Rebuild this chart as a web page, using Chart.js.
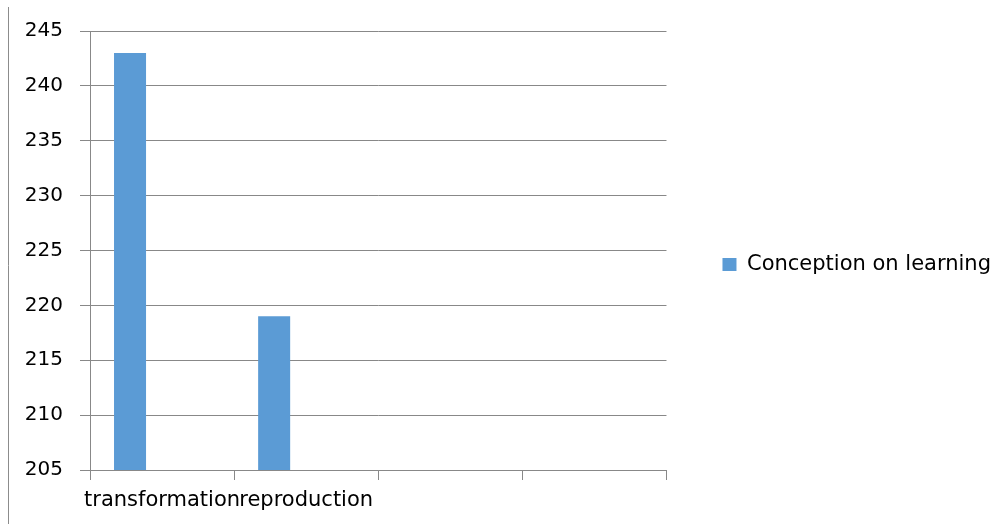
<!DOCTYPE html>
<html>
<head>
<meta charset="utf-8">
<script src="https://cdn.jsdelivr.net/npm/chart.js@4/dist/chart.umd.min.js"></script>
<style>
  html, body { margin: 0; padding: 0; background: #ffffff; }
  #wrap { width: 1003px; height: 524px; position: relative; }
</style>
</head>
<body>
<div id="wrap"><canvas id="chart"></canvas></div>
<script>
// Categories along the x axis (the last two slots are left empty)
const categories = ['transformation', 'reproduction', '', ''];
// Scores per category
const conceptionValues = [243, 219, null, null];
// Empty companion series that keep the three-slot bar grouping
const secondSeries = [null, null, null, null];
const thirdSeries = [null, null, null, null];
// Value axis range
const yMin = 205;
const yMax = 245;
const yStep = 5;

const FONT = 'DejaVu Sans';
const GRID = '#888888';

// Thin frame line at the left edge of the figure
const edgeLine = {
  id: 'edgeLine',
  afterDraw(chart) {
    const ctx = chart.ctx;
    ctx.save();
    ctx.strokeStyle = '#8c8c8c';
    ctx.lineWidth = 1;
    ctx.beginPath();
    ctx.moveTo(8.5, 7);
    ctx.lineTo(8.5, 524);
    ctx.stroke();
    ctx.restore();
  }
};

// Lift the legend block a little above the vertical middle
const legendLift = {
  id: 'legendLift',
  afterLayout(chart) {
    const lg = chart.legend;
    if (lg) {
      lg.bottom -= 26;
      lg.height -= 26;
    }
  }
};

new Chart(document.getElementById('chart'), {
  type: 'bar',
  data: {
    labels: categories,
    datasets: [
      { label: 'Conception on learning', data: conceptionValues, backgroundColor: '#5B9BD5' },
      { label: 'Series 2', data: secondSeries, backgroundColor: '#ED7D31' },
      { label: 'Series 3', data: thirdSeries, backgroundColor: '#A5A5A5' }
    ]
  },
  options: {
    responsive: true,
    maintainAspectRatio: false,
    animation: false,
    layout: { padding: { left: 0, right: 2, top: 31, bottom: 0 } },
    datasets: { bar: { categoryPercentage: 3 / 4.5, barPercentage: 1 } },
    plugins: {
      tooltip: { enabled: false },
      legend: {
        position: 'right',
        maxWidth: 400,
        labels: {
          filter: (item) => item.datasetIndex === 0,
          boxWidth: 14,
          boxHeight: 13,
          padding: 56,
          color: '#000000',
          font: { family: FONT, size: 21 }
        }
      }
    },
    scales: {
      x: {
        offset: true,
        afterFit: (s) => { s.height = 54; },
        grid: { display: true, drawOnChartArea: false, drawTicks: true, tickLength: 10, color: GRID, offset: true },
        border: { display: true, color: GRID },
        ticks: { color: '#000000', padding: 8, maxRotation: 0, autoSkip: false, font: { family: FONT, size: 21 } }
      },
      y: {
        min: yMin,
        max: yMax,
        afterFit: (s) => { s.width = 90; },
        grid: { color: GRID, tickLength: 10 },
        border: { display: true, color: GRID },
        ticks: { stepSize: yStep, color: '#000000', padding: 17, font: { family: FONT, size: 20 } }
      }
    }
  },
  plugins: [edgeLine, legendLift]
});
</script>
</body>
</html>
